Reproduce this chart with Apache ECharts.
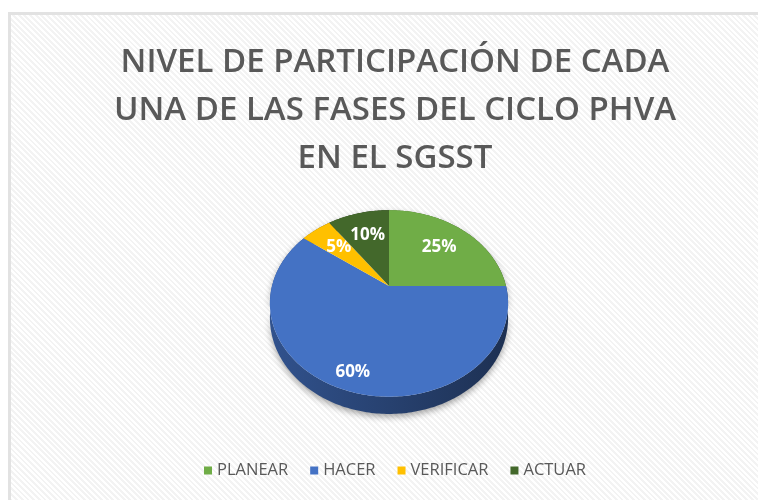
<!DOCTYPE html>
<html><head><meta charset="utf-8">
<script src="https://cdn.jsdelivr.net/npm/echarts@6/dist/echarts.min.js"></script>
<style>
html,body{margin:0;padding:0;background:#fff;width:758px;height:500px;overflow:hidden;}
#frame{position:absolute;left:8px;top:12px;width:760px;height:500px;border-left:3px solid #e2e2e2;border-top:3px solid #e2e2e2;
background:repeating-linear-gradient(45deg,#ffffff 0px,#ffffff 2px,#f3f3f3 2px,#f3f3f3 4px);}
#chart{position:absolute;left:0;top:0;width:758px;height:500px;}
</style></head>
<body><div id="frame"></div><div id="chart"></div>
<script>
const titleText = 'NIVEL DE PARTICIPACIÓN DE CADA\nUNA DE LAS FASES DEL CICLO PHVA\nEN EL SGSST';
const categories = ['PLANEAR', 'HACER', 'VERIFICAR', 'ACTUAR'];
const values = [25, 60, 5, 10];
const colors = ['#70AD47', '#4472C4', '#FFC000', '#43682B'];

const total = values.reduce((a, b) => a + b, 0);
const starts = values.map((v, i) => values.slice(0, i).reduce((a, b) => a + b, 0) / total * 360);
const ends = values.map((v, i) => starts[i] + v / total * 360);

// projection of tilted disc (perspective)
const G = {cx: 389, cy: 286, a: 117, b: 90, k: 0.187, h: 14};
function proj(u, v) { const d = 1 - G.k * v; return [G.cx + G.a * u / d, G.cy + G.b * v / d, d]; }
function pt(deg, r) { const t = deg * Math.PI / 180; return proj(r * Math.sin(t), -r * Math.cos(t)); }
function arc(a0, a1) { const out = []; const n = Math.max(2, Math.ceil(a1 - a0)); for (let j = 0; j <= n; j++) out.push(pt(a0 + (a1 - a0) * j / n, 1)); return out; }
function shade(hex, f) { const n = parseInt(hex.slice(1), 16); const r = (n >> 16) & 255, g = (n >> 8) & 255, b = n & 255; return 'rgb(' + [r, g, b].map(c => Math.round(c * f)).join(',') + ')'; }

const wallSeries = {
  type: 'custom', name: 'wall', coordinateSystem: 'none', silent: true,
  data: values.map((v, i) => [v, i]),
  renderItem: function (params, api) {
    const i = params.dataIndex;
    const top = arc(starts[i], ends[i]);
    const bottom = top.map(p => [p[0], p[1] + G.h / p[2]]).reverse();
    const pts = top.map(p => [p[0], p[1]]).concat(bottom);
    return {
      type: 'polygon', shape: {points: pts},
      style: {
        fill: new echarts.graphic.LinearGradient(0, 0, 1, 0, [
          {offset: 0, color: shade(colors[i], 0.72)}, {offset: 1, color: shade(colors[i], 0.42)}]),
        shadowBlur: 6, shadowColor: 'rgba(0,0,0,0.35)', shadowOffsetY: 3
      }
    };
  }
};

const topSeries = categories.map((name, i) => ({
  type: 'custom', name: name, coordinateSystem: 'none',
  itemStyle: {color: colors[i]},
  data: [[values[i]]],
  renderItem: function (params, api) {
    const pts = [[G.cx, G.cy]].concat(arc(starts[i], ends[i]).map(p => [p[0], p[1]]));
    const mid = (starts[i] + ends[i]) / 2;
    const lr = values[i] / total > 0.5 ? 0.85 : 0.66;
    const lp = pt(mid, lr);
    return {
      type: 'group', children: [
        {type: 'polygon', shape: {points: pts}, style: {fill: colors[i]}},
        {type: 'text', x: lp[0], y: lp[1], style: {
          text: Math.round(values[i] / total * 100) + '%', fill: '#ffffff',
          fontSize: 17, fontWeight: 'bold', fontFamily: 'Open Sans',
          align: 'center', verticalAlign: 'middle'}}
      ]
    };
  }
}));

const chart = echarts.init(document.getElementById('chart'), null, {renderer: 'canvas'});
chart.setOption({
  backgroundColor: 'transparent',
  animation: false,
  title: {
    text: titleText, left: 390, textAlign: 'center', top: 34,
    textStyle: {fontFamily: 'Open Sans', fontWeight: 600, fontSize: 33, color: '#595959', lineHeight: 48}
  },
  legend: {
    data: categories, left: 199, top: 457, icon: 'rect', itemWidth: 8, itemHeight: 8, itemGap: 22,
    textStyle: {fontFamily: 'Open Sans', fontSize: 16.5, color: '#595959'},
    selectedMode: false
  },
  series: [wallSeries].concat(topSeries)
});
</script></body></html>
